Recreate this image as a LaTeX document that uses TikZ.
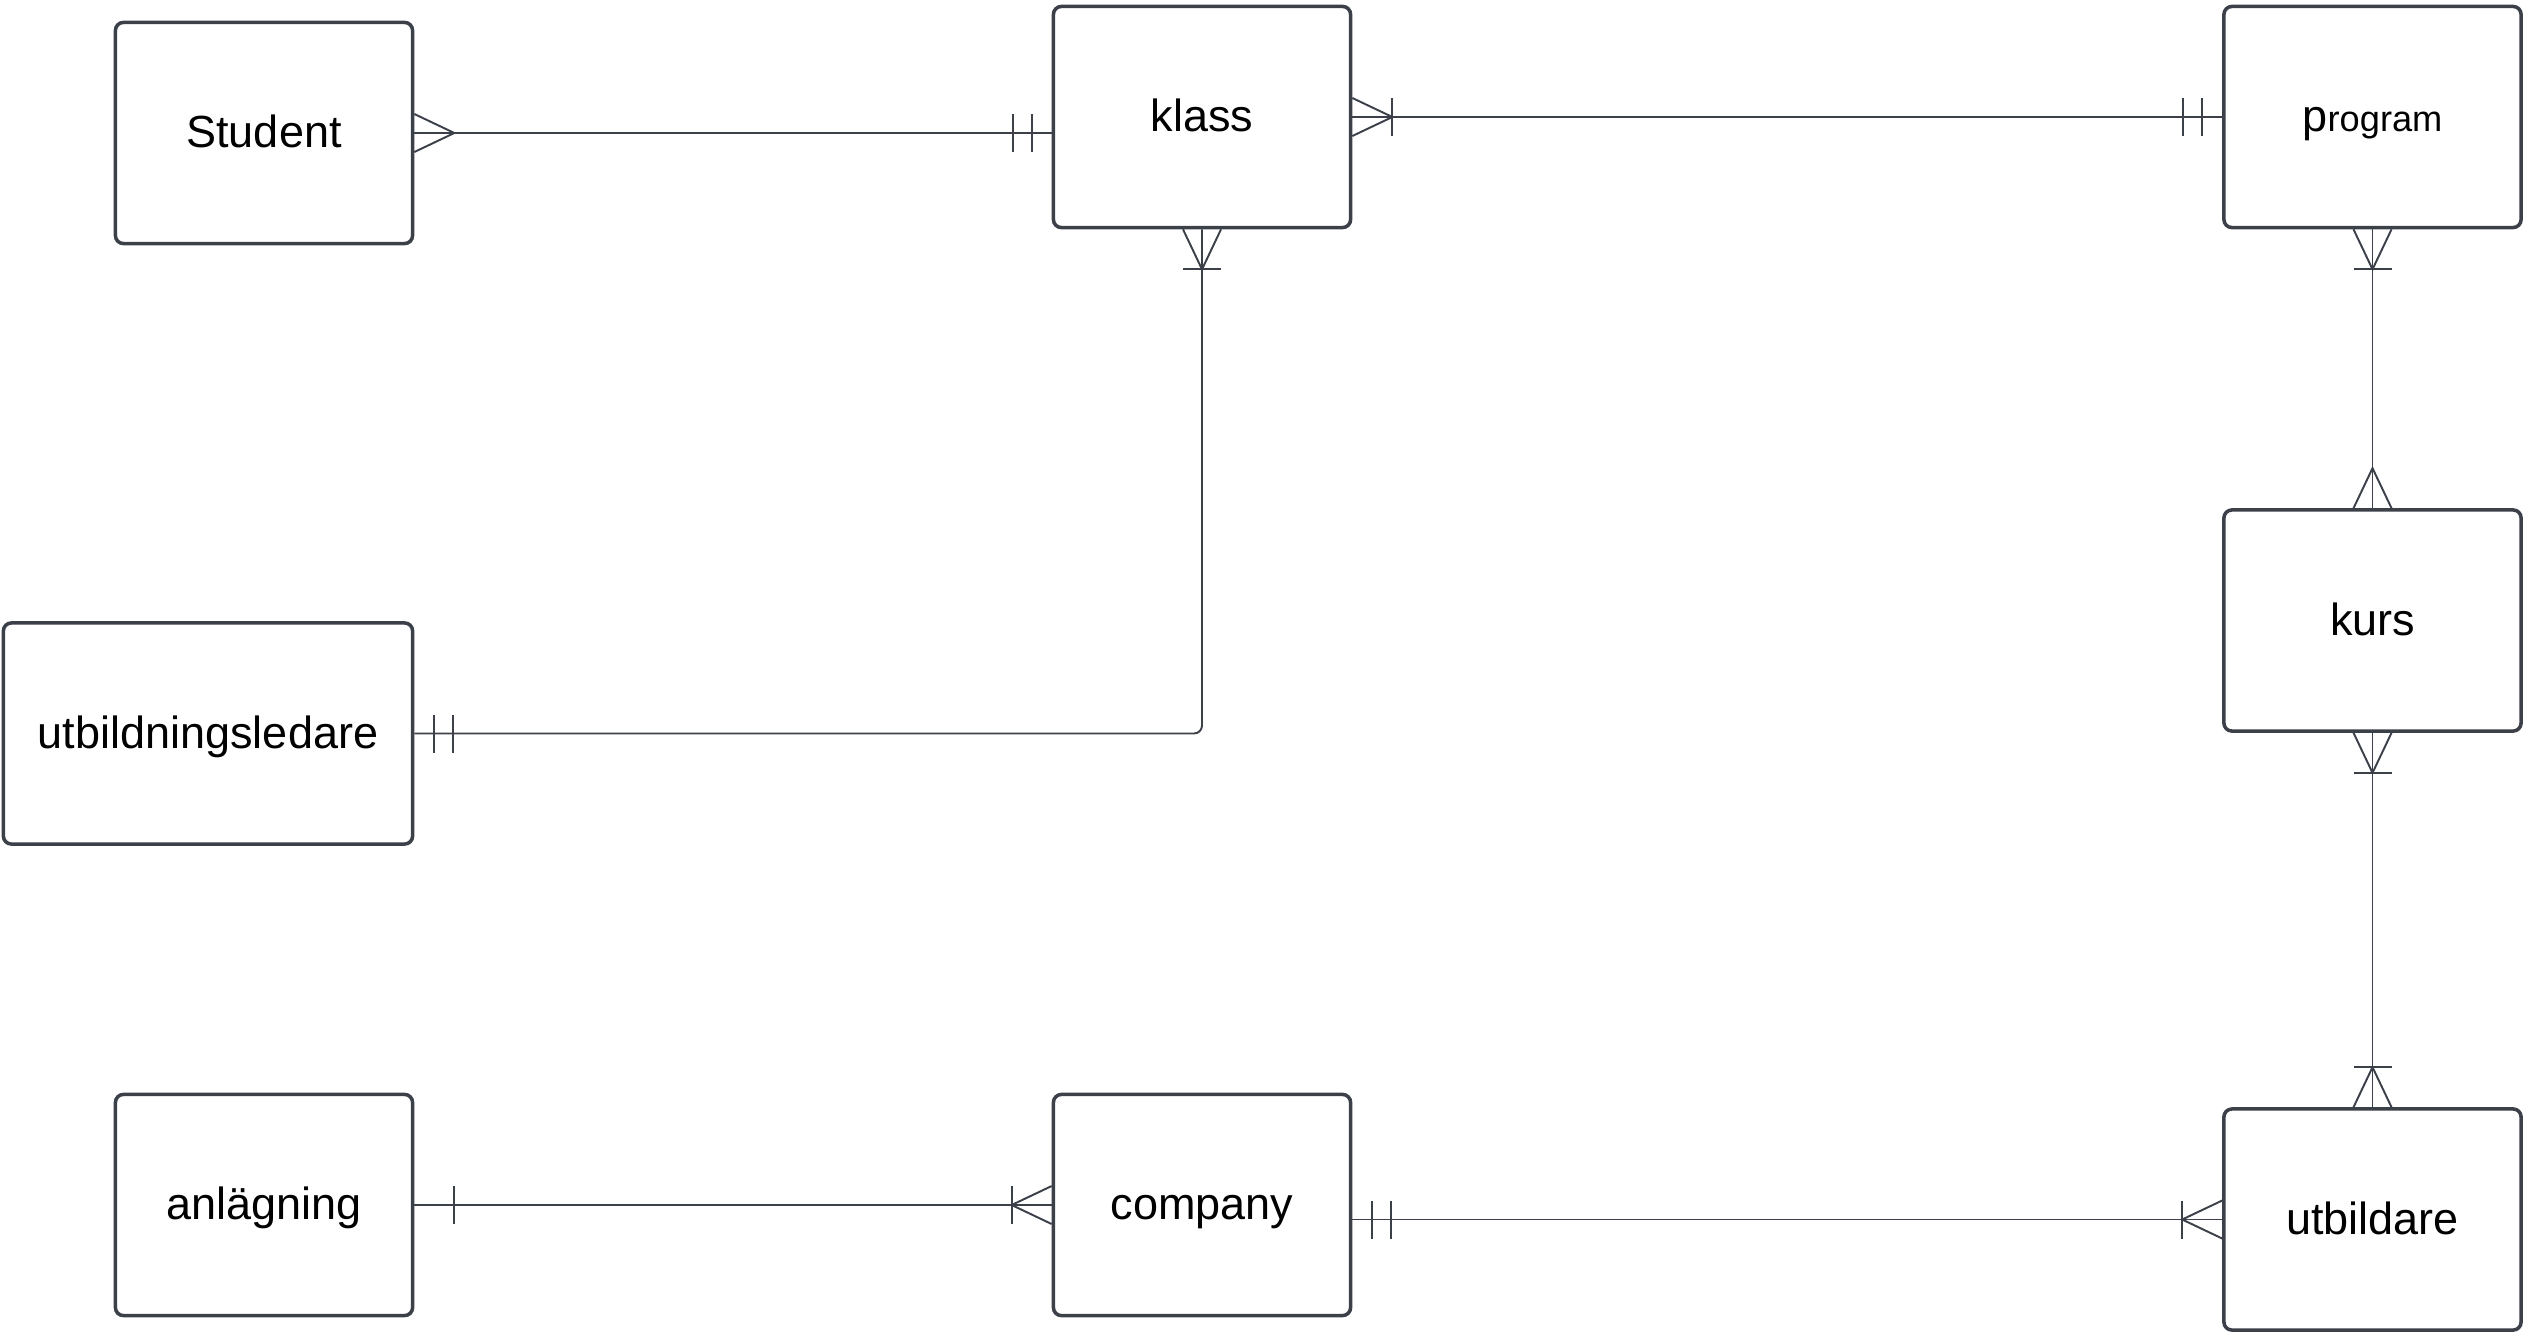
\documentclass[tikz,border=0pt]{standalone}
\usepackage{fontspec}
\setmainfont{Liberation Sans}
\definecolor{erline}{HTML}{3B4049}
\newcommand{\erfont}{\fontsize{12.8pt}{15pt}\selectfont}

\tikzset{
  entity/.style={draw=erline, line width=1pt, rounded corners=0.08cm,
    minimum width=2.97cm, minimum height=2.21cm, inner sep=0pt,
    text height=0.84em, text depth=0pt, font=\erfont},
  relation/.style={draw=erline, line width=0.55pt},
  % crow's foot notation, drawn pointing away from the box edge
  many/.pic={\draw[relation] (0,19) -- (40,0) -- (0,-19);},
  oneormany/.pic={\draw[relation] (0,19) -- (40,0) -- (0,-19);
    \draw[relation] (40,19) -- (40,-19);},
  one/.pic={\draw[relation] (40,19) -- (40,-19);},
  onlyone/.pic={\draw[relation] (20,19) -- (20,-19);
    \draw[relation] (39,19) -- (39,-19);}
}

\begin{document}
\begin{tikzpicture}[x=0.01cm,y=-0.01cm]

    \useasboundingbox (0,0) rectangle (2524,1333);

    % Entities
    \node[entity] (student) at (264,133) {Student};
    \node[entity] (klass) at (1202,117) {klass};
    \node[entity] (program) at (2372.5,117) {p{\fontsize{10.3pt}{12pt}\selectfont rogram}};
    \node[entity] (kurs) at (2372.5,620.5) {kurs};
    \node[entity,minimum width=4.09cm] (ledare) at (208,733.5) {utbildningsledare};
    \node[entity] (anlagning) at (264,1205) {anlägning};
    \node[entity] (company) at (1202,1205) {company};
    \node[entity] (utbildare) at (2372.5,1219.5) {utbildare};

    % Student -- klass
    \draw[relation] (student.east) -- (klass.west |- student.east);
    \pic at (student.east) {many};
    \pic[rotate=180] at (klass.west |- student.east) {onlyone};

    % klass -- program
    \draw[relation] (klass.east) -- (program.west);
    \pic at (klass.east) {oneormany};
    \pic[rotate=180] at (program.west) {onlyone};

    % program -- kurs
    \draw[relation] (program.south) -- (kurs.north);
    \pic[rotate=-90] at (program.south) {oneormany};
    \pic[rotate=90] at (kurs.north) {many};

    % kurs -- utbildare
    \draw[relation] (kurs.south) -- (utbildare.north);
    \pic[rotate=-90] at (kurs.south) {oneormany};
    \pic[rotate=90] at (utbildare.north) {oneormany};

    % utbildningsledare -- klass
    \draw[relation,rounded corners=0.08cm] (ledare.east) -| (klass.south);
    \pic at (ledare.east) {onlyone};
    \pic[rotate=-90] at (klass.south) {oneormany};

    % anlägning -- company
    \draw[relation] (anlagning.east) -- (company.west);
    \pic at (anlagning.east) {one};
    \pic[rotate=180] at (company.west) {oneormany};

    % company -- utbildare
    \draw[relation] (company.east |- utbildare.west) -- (utbildare.west);
    \pic at (company.east |- utbildare.west) {onlyone};
    \pic[rotate=180] at (utbildare.west) {oneormany};

\end{tikzpicture}
\end{document}
